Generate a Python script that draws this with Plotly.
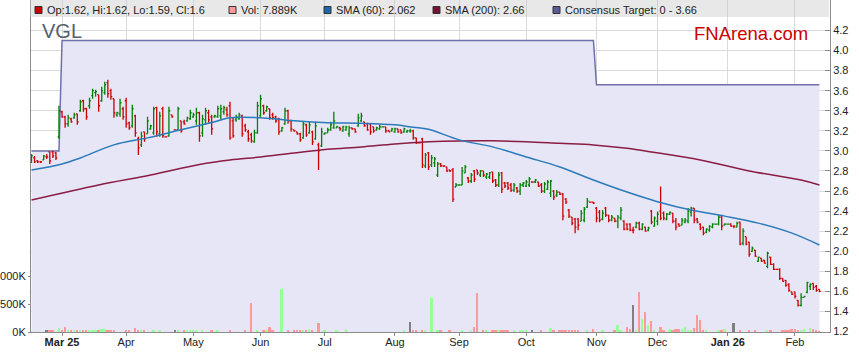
import pandas as pd
import plotly.graph_objects as go

# ---------------- data ----------------
ticker = "VGL"
trade_dates = [d.strftime("%Y-%m-%d") for d in pd.bdate_range("2025-02-17", "2026-02-12")]

month_keys = ["2025-03", "2025-04", "2025-05", "2025-06", "2025-07", "2025-08",
              "2025-09", "2025-10", "2025-11", "2025-12", "2026-01", "2026-02"]
month_labels = ["<b>Mar 25</b>", "Apr", "May", "Jun", "Jul", "Aug",
                "Sep", "Oct", "Nov", "Dec", "<b>Jan 26</b>", "Feb"]

price_ticks = [1.2, 1.4, 1.6, 1.8, 2.0, 2.2, 2.4, 2.6, 2.8, 3.0, 3.2, 3.4, 3.6, 3.8, 4.0, 4.2]
volume_ticks = [0, 500, 1000]
volume_tick_labels = ["0K", "500K", "1000K"]

open_ = [
    2.90, 2.93, 2.90, 2.89, 2.91, 2.94, 2.99, 2.99, 2.98, 3.14,
    3.39, 3.34, 3.27, 3.32, 3.33, 3.37, 3.40, 3.50, 3.42, 3.45,
    3.55, 3.58, 3.56, 3.50, 3.58, 3.68, 3.60, 3.52, 3.36, 3.37,
    3.42, 3.50, 3.28, 3.25, 3.35, 3.12, 3.06, 3.19, 3.17, 3.22,
    3.18, 3.43, 3.17, 3.42, 3.14, 3.15, 3.36, 3.21, 3.21, 3.30,
    3.29, 3.30, 3.32, 3.34, 3.30, 3.38, 3.18, 3.31, 3.38, 3.34,
    3.34, 3.34, 3.35, 3.39, 3.41, 3.45, 3.30, 3.31, 3.32, 3.35,
    3.25, 3.19, 3.16, 3.09, 3.18, 3.35, 3.45, 3.40, 3.42, 3.36,
    3.34, 3.32, 3.20, 3.27, 3.40, 3.30, 3.21, 3.19, 3.17, 3.13,
    3.26, 3.18, 3.19, 3.12, 3.06, 3.05, 3.17, 3.18, 3.21, 3.23,
    3.23, 3.23, 3.20, 3.21, 3.17, 3.23, 3.22, 3.25, 3.30, 3.29,
    3.27, 3.27, 3.24, 3.21, 3.22, 3.24, 3.24, 3.20, 3.20, 3.19,
    3.22, 3.21, 3.19, 3.19, 3.20, 3.20, 3.13, 3.08, 3.12, 2.85,
    2.98, 2.86, 2.88, 2.76, 2.87, 2.85, 2.84, 2.81, 2.81, 2.64,
    2.66, 2.66, 2.78, 2.73, 2.70, 2.80, 2.81, 2.76, 2.80, 2.74,
    2.74, 2.79, 2.71, 2.66, 2.78, 2.68, 2.68, 2.66, 2.61, 2.63,
    2.60, 2.66, 2.65, 2.66, 2.69, 2.69, 2.69, 2.66, 2.60, 2.62,
    2.58, 2.60, 2.56, 2.59, 2.57, 2.52, 2.41, 2.34, 2.32, 2.32,
    2.30, 2.31, 2.44, 2.49, 2.49, 2.43, 2.39, 2.32, 2.43, 2.36,
    2.31, 2.33, 2.30, 2.33, 2.30, 2.27, 2.27, 2.21, 2.24, 2.28,
    2.22, 2.24, 2.21, 2.40, 2.25, 2.30, 2.40, 2.38, 2.32, 2.37,
    2.38, 2.30, 2.27, 2.26, 2.29, 2.30, 2.39, 2.43, 2.32, 2.27,
    2.24, 2.19, 2.21, 2.24, 2.27, 2.27, 2.34, 2.26, 2.27, 2.27,
    2.25, 2.24, 2.29, 2.08, 2.145, 2.09, 2.00, 2.01, 1.90, 1.93,
    1.91, 1.85, 1.94, 1.87, 1.82, 1.82, 1.73, 1.71, 1.67, 1.595,
    1.595, 1.51, 1.46, 1.54, 1.59, 1.65, 1.68, 1.65, 1.62,
]
high = [
    2.97, 2.95, 2.91, 2.90, 2.96, 2.97, 2.99, 3.00, 2.99, 3.45,
    3.40, 3.35, 3.36, 3.33, 3.38, 3.37, 3.51, 3.51, 3.43, 3.53,
    3.62, 3.61, 3.56, 3.64, 3.69, 3.71, 3.62, 3.52, 3.39, 3.52,
    3.44, 3.53, 3.29, 3.46, 3.36, 3.14, 3.19, 3.19, 3.34, 3.26,
    3.44, 3.44, 3.39, 3.44, 3.14, 3.44, 3.36, 3.21, 3.44, 3.30,
    3.31, 3.34, 3.41, 3.38, 3.43, 3.39, 3.36, 3.43, 3.41, 3.36,
    3.36, 3.45, 3.46, 3.45, 3.44, 3.49, 3.33, 3.36, 3.38, 3.36,
    3.27, 3.21, 3.18, 3.21, 3.49, 3.56, 3.46, 3.45, 3.42, 3.38,
    3.35, 3.33, 3.24, 3.43, 3.41, 3.31, 3.21, 3.19, 3.18, 3.29,
    3.27, 3.29, 3.20, 3.29, 3.08, 3.23, 3.18, 3.23, 3.29, 3.39,
    3.25, 3.24, 3.25, 3.25, 3.25, 3.23, 3.22, 3.37, 3.38, 3.29,
    3.28, 3.27, 3.24, 3.24, 3.26, 3.24, 3.24, 3.21, 3.23, 3.23,
    3.22, 3.21, 3.23, 3.21, 3.22, 3.21, 3.13, 3.08, 3.13, 2.98,
    2.99, 2.96, 2.94, 2.89, 2.88, 2.85, 2.84, 2.81, 2.83, 2.68,
    2.66, 2.84, 2.86, 2.74, 2.78, 2.81, 2.81, 2.81, 2.80, 2.78,
    2.79, 2.79, 2.72, 2.79, 2.79, 2.69, 2.69, 2.68, 2.68, 2.64,
    2.68, 2.69, 2.71, 2.74, 2.69, 2.72, 2.69, 2.68, 2.69, 2.71,
    2.71, 2.61, 2.61, 2.59, 2.58, 2.53, 2.42, 2.34, 2.33, 2.33,
    2.41, 2.44, 2.53, 2.49, 2.49, 2.44, 2.41, 2.41, 2.44, 2.36,
    2.36, 2.33, 2.36, 2.44, 2.31, 2.28, 2.28, 2.245, 2.295, 2.295,
    2.28, 2.245, 2.245, 2.41, 2.345, 2.395, 2.644, 2.395, 2.38, 2.395,
    2.38, 2.33, 2.28, 2.33, 2.33, 2.43, 2.444, 2.43, 2.33, 2.28,
    2.245, 2.23, 2.26, 2.28, 2.27, 2.36, 2.36, 2.28, 2.27, 2.28,
    2.26, 2.295, 2.295, 2.23, 2.145, 2.095, 2.046, 2.012, 1.946, 1.93,
    1.913, 1.996, 1.946, 1.879, 1.82, 1.83, 1.73, 1.713, 1.68, 1.597,
    1.597, 1.514, 1.58, 1.55, 1.697, 1.68, 1.68, 1.663, 1.62,
]
low = [
    2.88, 2.88, 2.88, 2.88, 2.91, 2.92, 2.87, 2.93, 2.91, 3.12,
    3.33, 3.23, 3.24, 3.28, 3.32, 3.26, 3.39, 3.39, 3.31, 3.42,
    3.52, 3.54, 3.39, 3.49, 3.56, 3.53, 3.51, 3.33, 3.34, 3.34,
    3.31, 3.23, 3.21, 3.23, 3.14, 2.96, 3.04, 3.09, 3.17, 3.21,
    3.16, 3.14, 3.14, 3.13, 3.14, 3.14, 3.33, 3.21, 3.21, 3.18,
    3.26, 3.29, 3.31, 3.33, 3.26, 3.09, 3.14, 3.26, 3.28, 3.16,
    3.33, 3.33, 3.31, 3.36, 3.34, 3.11, 3.13, 3.29, 3.31, 3.14,
    3.19, 3.09, 3.08, 3.08, 3.17, 3.34, 3.36, 3.39, 3.31, 3.31,
    3.28, 3.16, 3.19, 3.26, 3.27, 3.19, 3.19, 3.16, 3.09, 3.12,
    3.14, 3.17, 3.06, 3.11, 2.81, 3.04, 3.16, 3.18, 3.20, 3.22,
    3.23, 3.20, 3.19, 3.20, 3.14, 3.21, 3.18, 3.24, 3.29, 3.24,
    3.20, 3.16, 3.18, 3.20, 3.21, 3.24, 3.18, 3.19, 3.19, 3.18,
    3.18, 3.17, 3.18, 3.18, 3.18, 3.11, 3.07, 3.08, 2.83, 2.83,
    2.81, 2.84, 2.84, 2.74, 2.84, 2.84, 2.79, 2.79, 2.49, 2.64,
    2.66, 2.66, 2.78, 2.68, 2.68, 2.69, 2.76, 2.74, 2.74, 2.72,
    2.72, 2.68, 2.64, 2.64, 2.58, 2.63, 2.61, 2.59, 2.59, 2.58,
    2.56, 2.64, 2.64, 2.64, 2.69, 2.68, 2.64, 2.58, 2.58, 2.61,
    2.54, 2.51, 2.54, 2.56, 2.31, 2.47, 2.33, 2.26, 2.18, 2.21,
    2.30, 2.29, 2.43, 2.49, 2.47, 2.29, 2.29, 2.31, 2.34, 2.29,
    2.30, 2.29, 2.23, 2.31, 2.21, 2.21, 2.20, 2.18, 2.23, 2.21,
    2.21, 2.195, 2.20, 2.27, 2.245, 2.26, 2.31, 2.31, 2.31, 2.36,
    2.28, 2.21, 2.245, 2.26, 2.28, 2.28, 2.345, 2.28, 2.28, 2.21,
    2.16, 2.18, 2.195, 2.23, 2.27, 2.26, 2.21, 2.26, 2.27, 2.245,
    2.23, 2.24, 2.06, 2.06, 2.06, 1.946, 1.996, 1.946, 1.896, 1.896,
    1.879, 1.83, 1.863, 1.813, 1.82, 1.713, 1.697, 1.647, 1.597, 1.564,
    1.53, 1.448, 1.448, 1.54, 1.58, 1.614, 1.614, 1.597, 1.59,
]
close = [
    2.95, 2.89, 2.89, 2.89, 2.95, 2.94, 2.90, 2.95, 2.93, 3.40,
    3.34, 3.27, 3.33, 3.29, 3.36, 3.29, 3.49, 3.42, 3.34, 3.50,
    3.60, 3.59, 3.45, 3.60, 3.66, 3.57, 3.54, 3.38, 3.38, 3.48,
    3.34, 3.27, 3.23, 3.42, 3.18, 3.03, 3.15, 3.12, 3.30, 3.25,
    3.42, 3.19, 3.35, 3.15, 3.14, 3.40, 3.34, 3.21, 3.42, 3.20,
    3.27, 3.33, 3.38, 3.36, 3.38, 3.15, 3.32, 3.40, 3.31, 3.22,
    3.35, 3.42, 3.42, 3.43, 3.36, 3.13, 3.15, 3.34, 3.36, 3.17,
    3.21, 3.12, 3.10, 3.18, 3.45, 3.52, 3.38, 3.44, 3.33, 3.33,
    3.30, 3.19, 3.23, 3.40, 3.30, 3.22, 3.20, 3.17, 3.11, 3.27,
    3.16, 3.26, 3.09, 3.25, 3.00, 3.19, 3.18, 3.21, 3.26, 3.30,
    3.24, 3.22, 3.24, 3.24, 3.23, 3.22, 3.19, 3.33, 3.35, 3.25,
    3.21, 3.19, 3.20, 3.23, 3.24, 3.24, 3.20, 3.19, 3.22, 3.22,
    3.19, 3.18, 3.22, 3.20, 3.20, 3.13, 3.08, 3.08, 2.86, 2.96,
    2.84, 2.93, 2.92, 2.87, 2.85, 2.85, 2.80, 2.80, 2.52, 2.66,
    2.66, 2.80, 2.84, 2.70, 2.76, 2.72, 2.78, 2.80, 2.76, 2.77,
    2.78, 2.70, 2.66, 2.76, 2.62, 2.65, 2.63, 2.61, 2.66, 2.60,
    2.66, 2.68, 2.69, 2.72, 2.69, 2.71, 2.65, 2.60, 2.67, 2.69,
    2.70, 2.54, 2.59, 2.57, 2.35, 2.49, 2.35, 2.28, 2.24, 2.26,
    2.38, 2.42, 2.50, 2.49, 2.48, 2.33, 2.31, 2.38, 2.36, 2.31,
    2.34, 2.30, 2.34, 2.41, 2.22, 2.22, 2.21, 2.21, 2.28, 2.22,
    2.27, 2.20, 2.23, 2.29, 2.33, 2.37, 2.33, 2.33, 2.37, 2.39,
    2.30, 2.24, 2.25, 2.31, 2.31, 2.40, 2.43, 2.31, 2.29, 2.23,
    2.18, 2.22, 2.25, 2.27, 2.27, 2.34, 2.25, 2.27, 2.27, 2.25,
    2.25, 2.28, 2.07, 2.20, 2.07, 1.97, 2.03, 1.95, 1.94, 1.90,
    1.88, 1.98, 1.87, 1.82, 1.82, 1.73, 1.70, 1.66, 1.61, 1.57,
    1.55, 1.46, 1.54, 1.55, 1.69, 1.67, 1.64, 1.61, 1.60,
]
volume_k = [
    10, 0, 0, 0, 0, 30, 30, 30, 0, 72,
    30, 90, 18, 18, 18, 18, 18, 18, 18, 18,
    18, 18, 36, 60, 60, 20, 20, 20, 0, 0,
    0, 18, 18, 0, 72, 24, 18, 42, 0, 0,
    18, 0, 18, 0, 0, 0, 0, 18, 18, 0,
    18, 42, 24, 18, 18, 0, 18, 0, 0, 18,
    0, 36, 0, 0, 0, 18, 0, 0, 0, 0,
    18, 0, 510, 0, 42, 0, 18, 36, 90, 36,
    0, 0, 770, 0, 18, 0, 18, 18, 18, 18,
    18, 48, 18, 0, 160, 0, 18, 0, 0, 0,
    36, 0, 0, 60, 0, 0, 0, 0, 0, 0,
    0, 0, 0, 0, 0, 0, 0, 0, 0, 0,
    0, 0, 18, 0, 170, 24, 24, 0, 36, 18,
    0, 600, 0, 36, 24, 0, 0, 18, 0, 0,
    0, 18, 0, 0, 18, 90, 690, 0, 36, 24,
    0, 36, 18, 36, 36, 18, 18, 0, 18, 0,
    18, 36, 18, 0, 18, 0, 0, 36, 0, 0,
    72, 24, 0, 24, 18, 24, 24, 24, 18, 36,
    0, 0, 24, 0, 60, 0, 0, 18, 0, 0,
    0, 18, 120, 24, 0, 90, 60, 480, 18, 720,
    230, 360, 120, 200, 18, 0, 90, 30, 0, 48,
    24, 60, 60, 60, 84, 36, 36, 72, 310, 210,
    18, 18, 0, 0, 0, 18, 18, 48, 0, 0,
    160, 0, 18, 0, 0, 18, 0, 18, 0, 0,
    0, 18, 18, 0, 0, 0, 18, 24, 36, 48,
    60, 24, 36, 48, 0, 72, 48, 36, 7.889,
]

sma60_day = [0, 10, 16, 27, 38, 49, 60, 65, 75, 81, 86, 97, 108, 119, 125, 130,
             140, 151, 162, 173, 184, 195, 205, 216, 227, 238, 249, 258]
sma60_val = [2.81, 2.87, 2.93, 3.06, 3.13, 3.21, 3.29, 3.33, 3.33, 3.315, 3.30, 3.28,
             3.275, 3.26, 3.235, 3.215, 3.11, 3.04, 2.94, 2.84, 2.71, 2.59, 2.494,
             2.41, 2.35, 2.28, 2.18, 2.062]

sma200_day = [0, 22, 39, 55, 65, 75, 86, 97, 108, 119, 130, 140, 151, 162, 173,
              184, 195, 203, 219, 235, 252, 258]
sma200_val = [2.51, 2.66, 2.76, 2.865, 2.91, 2.94, 2.98, 3.016, 3.04, 3.07, 3.09,
              3.099, 3.10, 3.092, 3.076, 3.06, 3.026, 2.99, 2.91, 2.80, 2.71, 2.66]

target_dates = ["2025-02-17", "2025-02-28", "2025-03-03", "2025-10-31", "2025-11-03", "2026-02-12"]
target_vals = [3.00, 3.00, 4.10, 4.10, 3.66, 3.66]

# ---------------- styling / geometry ----------------
FONT = "Liberation Sans, Arial, sans-serif"
W, H = 859, 363
ML, MR, MT, MB = 31, 29, 0, 31
PW, PH = W - ML - MR, H - MT - MB
DAY_PX = 3.054
X_RANGE = [-0.16, -0.16 + PW / DAY_PX]
PRICE_RANGE = [1.195, 4.504]
VOL_RANGE = [0, 5929]

UP, DOWN = "#008000", "#CC0000"
VOL_UP, VOL_DOWN, VOL_FLAT = "#99FF99", "#FF9999", "#808080"
SMA60_C, SMA200_C = "#2B7BBA", "#8B1C42"
TARGET_LINE, TARGET_FILL = "#7070AC", "#E6E6F6"
GRID, AXIS = "#DADADA", "#8C8C8C"


def px_x(px):
    return (px - ML) / PW


def px_y(py):
    return 1 - (py - MT) / PH


day = list(range(len(trade_dates)))          # trading-day number (x position)
day_of = {d: i for i, d in enumerate(trade_dates)}
tickvals = [next(i for i, d in enumerate(trade_dates) if d.startswith(k)) for k in month_keys]
vol_colors = [VOL_UP if c > o else VOL_DOWN if c < o else VOL_FLAT for o, c in zip(open_, close)]

fig = go.Figure()

# base layer: consensus target area (price axis y)
fig.add_trace(go.Scatter(
    x=[day_of[d] for d in target_dates], y=target_vals, mode="lines", fill="tozeroy",
    fillcolor=TARGET_FILL, line=dict(color=TARGET_LINE, width=1.5),
    hoverinfo="skip", showlegend=False, yaxis="y"))

# volume (y2, overlay)
fig.add_trace(go.Bar(
    x=day, y=volume_k, marker=dict(color=vol_colors, line=dict(width=0)),
    width=0.62, yaxis="y2", showlegend=False))

# price marks on top (y3, same price scale)
fig.add_trace(go.Scatter(
    x=sma200_day, y=sma200_val, mode="lines", yaxis="y3",
    line=dict(color=SMA200_C, width=1.5, shape="spline"), showlegend=False))
fig.add_trace(go.Scatter(
    x=sma60_day, y=sma60_val, mode="lines", yaxis="y3",
    line=dict(color=SMA60_C, width=1.5, shape="spline"), showlegend=False))
fig.add_trace(go.Ohlc(
    x=day, open=open_, high=high, low=low, close=close, yaxis="y3",
    increasing=dict(line=dict(color=UP, width=1.3)),
    decreasing=dict(line=dict(color=DOWN, width=1.3)),
    tickwidth=0.45, showlegend=False))

fig.update_layout(
    width=W, height=H, margin=dict(l=ML, r=MR, t=MT, b=MB, autoexpand=False),
    paper_bgcolor="white", plot_bgcolor="white",
    font=dict(family=FONT, size=11, color="#222"),
    showlegend=False, bargap=0,
    xaxis=dict(
        type="linear", range=X_RANGE, automargin=False,
        tickmode="array", tickvals=tickvals, ticktext=month_labels,
        ticks="outside", ticklen=3, tickcolor=AXIS, ticklabelstandoff=-3,
        showline=True, linecolor=AXIS, linewidth=1,
        showgrid=True, gridcolor=GRID, gridwidth=1, zeroline=False,
        rangeslider=dict(visible=False), fixedrange=True,
        tickfont=dict(family=FONT, size=11, color="#222"),
    ),
    yaxis=dict(
        side="right", range=PRICE_RANGE, tickmode="array", tickvals=price_ticks,
        ticktext=[f"{v:.1f}" for v in price_ticks], automargin=False,
        ticks="inside", ticklen=5, tickcolor=AXIS,
        showline=True, linecolor=AXIS, linewidth=1,
        showgrid=True, gridcolor=GRID, gridwidth=1, zeroline=False,
        tickfont=dict(family=FONT, size=11, color="#222"),
    ),
    yaxis2=dict(
        overlaying="y", side="left", range=VOL_RANGE, tickmode="array",
        tickvals=volume_ticks, ticktext=volume_tick_labels, automargin=False,
        ticks="outside", ticklen=2, tickcolor=AXIS,
        showline=True, linecolor=AXIS, linewidth=1,
        showgrid=False, zeroline=False,
        tickfont=dict(family=FONT, size=11, color="#222"),
    ),
    yaxis3=dict(
        overlaying="y", side="right", range=PRICE_RANGE, visible=False,
        automargin=False, showgrid=False, zeroline=False,
    ),
)

# legend band (overlay) and items
shapes = [dict(type="rect", xref="paper", yref="paper",
               x0=px_x(30), x1=px_x(829), y0=px_y(17), y1=px_y(0),
               fillcolor="rgba(200,200,200,0.42)", line=dict(width=0), layer="above")]
legend_items = [
    (35, DOWN, f"Op:{open_[-1]:g}, Hi:{high[-1]:g}, Lo:{low[-1]:g}, Cl:{close[-1]:g}"),
    (229, VOL_DOWN, f"Vol: {volume_k[-1]:.3f}K"),
    (324, "#1F66A6", f"SMA (60): {sma60_val[-1]:g}"),
    (433, "#7A0F30", f"SMA (200): {sma200_val[-1]:g}"),
    (553, "#5A5A98", f"Consensus Target: 0 - {target_vals[-1]:g}"),
]
annotations = []
for sx, col, txt in legend_items:
    shapes.append(dict(type="rect", xref="paper", yref="paper",
                       x0=px_x(sx), x1=px_x(sx + 7), y0=px_y(13.5), y1=px_y(6.5),
                       fillcolor=col, line=dict(color="#333", width=1), layer="above"))
    annotations.append(dict(x=px_x(sx + 10), y=px_y(10), xref="paper", yref="paper",
                            text=txt, showarrow=False, xanchor="left", yanchor="middle",
                            font=dict(family=FONT, size=11, color="#222")))

annotations.append(dict(x=px_x(40), y=px_y(31), xref="paper", yref="paper", text=ticker,
                        showarrow=False, xanchor="left", yanchor="middle",
                        font=dict(family=FONT, size=20, color="#56606E")))
annotations.append(dict(x=px_x(810), y=px_y(33), xref="paper", yref="paper", text="FNArena.com",
                        showarrow=False, xanchor="right", yanchor="middle",
                        font=dict(family=FONT, size=18.5, color="#CC0000")))

fig.update_layout(shapes=shapes, annotations=annotations)

fig.write_html("out.html", config={"displayModeBar": False},
               post_script="document.body.style.margin='0px';")
